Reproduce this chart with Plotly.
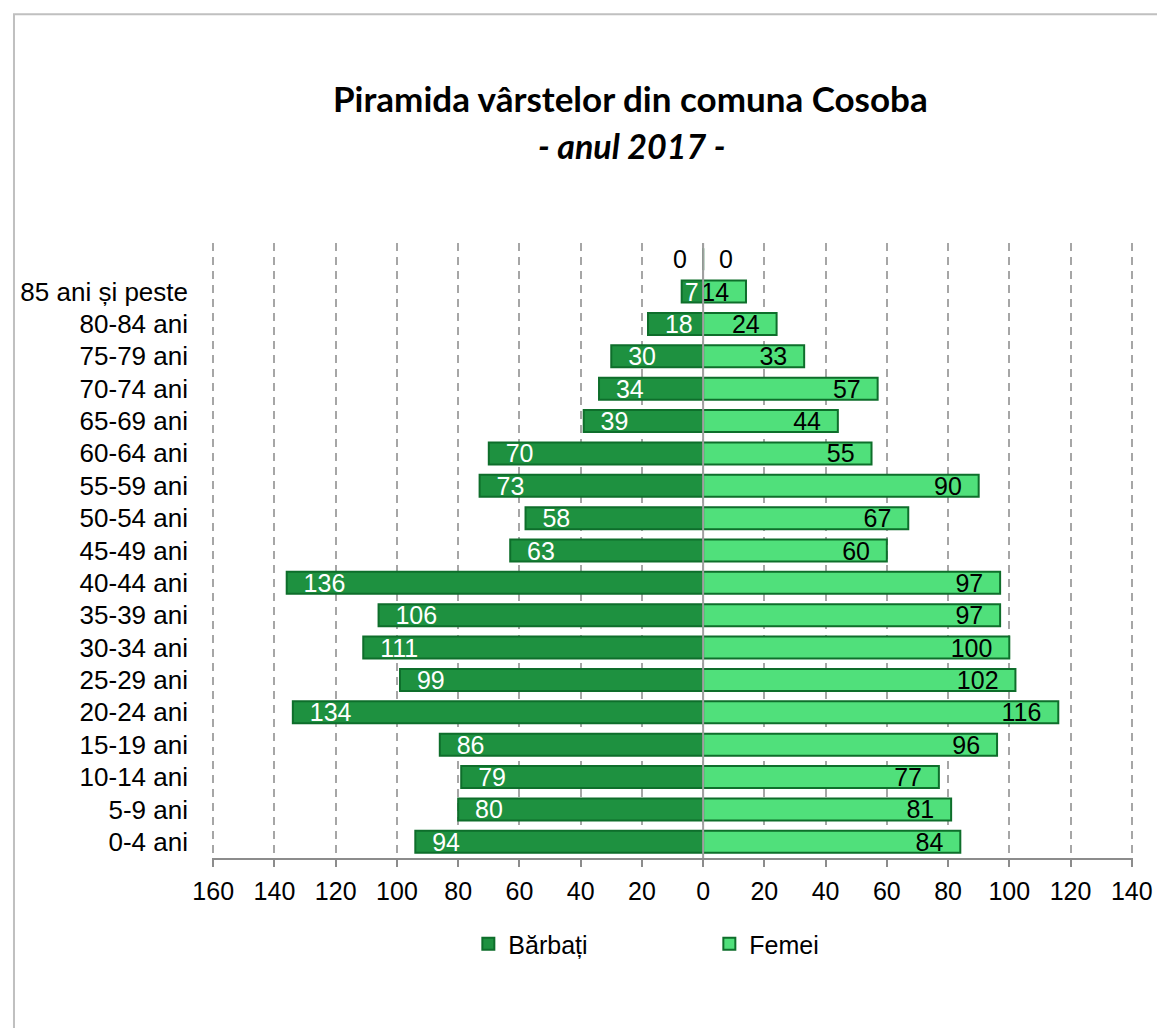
import plotly.graph_objects as go

# ---- data ----
age_groups = ["0-4 ani", "5-9 ani", "10-14 ani", "15-19 ani", "20-24 ani", "25-29 ani",
              "30-34 ani", "35-39 ani", "40-44 ani", "45-49 ani", "50-54 ani", "55-59 ani",
              "60-64 ani", "65-69 ani", "70-74 ani", "75-79 ani", "80-84 ani",
              "85 ani și peste", " "]
barbati = [94, 80, 79, 86, 134, 99, 111, 106, 136, 63, 58, 73, 70, 39, 34, 30, 18, 7, 0]
femei = [84, 81, 77, 96, 116, 102, 100, 97, 97, 60, 67, 90, 55, 44, 57, 33, 24, 14, 0]
tick_values = [-160, -140, -120, -100, -80, -60, -40, -20, 0, 20, 40, 60, 80, 100, 120, 140]
tick_labels = ["160", "140", "120", "100", "80", "60", "40", "20", "0",
               "20", "40", "60", "80", "100", "120", "140"]
title_line1 = "Piramida vârstelor din comuna Cosoba"
title_line2 = "- anul 2017 -"
series_names = ["Bărbați", "Femei"]

MEN_FILL = "#1E9140"
WOMEN_FILL = "#50E07B"
OUTLINE = "#0E6E2B"
FONT = "Liberation Sans, Arial, sans-serif"
NB = "\u00a0\u00a0"

men_x = [-v for v in barbati]
men_text = [str(v) if v != 0 else "" for v in barbati]
women_text = [str(v) if v != 0 else "" for v in femei]
# padding from the bar end only where the bar is long enough
men_tpl = [(NB + "%{text}") if v >= 10 else "%{text}" for v in barbati]
women_tpl = [("%{text}" + NB) if v >= 10 else "%{text}" for v in femei]

fig = go.Figure()
fig.add_trace(go.Bar(
    y=age_groups, x=men_x, orientation="h", name=series_names[0],
    marker=dict(color=MEN_FILL, line=dict(color=OUTLINE, width=2)),
    text=men_text, texttemplate=men_tpl, textposition="inside",
    insidetextanchor="end", constraintext="none",
    textfont=dict(family=FONT, size=25, color="white"),
    hoverinfo="skip",
))
fig.add_trace(go.Bar(
    y=age_groups, x=femei, orientation="h", name=series_names[1],
    marker=dict(color=WOMEN_FILL, line=dict(color=OUTLINE, width=2)),
    text=women_text, texttemplate=women_tpl, textposition="inside",
    insidetextanchor="end", constraintext="none",
    textfont=dict(family=FONT, size=25, color="black"),
    hoverinfo="skip",
))

annotations = []
# labels for zero-valued rows
for cat, m, f in zip(age_groups, barbati, femei):
    if m == 0:
        annotations.append(dict(x=-m, y=cat, xref="x", yref="y", text=str(m),
                                showarrow=False, xanchor="right", xshift=-14,
                                font=dict(family=FONT, size=25, color="black")))
    if f == 0:
        annotations.append(dict(x=f, y=cat, xref="x", yref="y", text=str(f),
                                showarrow=False, xanchor="left", xshift=14,
                                font=dict(family=FONT, size=25, color="black")))

annotations.append(dict(x=0.454, y=1.236, xref="paper", yref="paper",
                        text="<b>" + title_line1 + "</b>", showarrow=False,
                        xanchor="center", yanchor="middle",
                        font=dict(family="Lato, sans-serif", size=35, color="black")))
annotations.append(dict(x=0.456, y=1.159, xref="paper", yref="paper",
                        text="<b><i>" + title_line2 + "</i></b>", showarrow=False,
                        xanchor="center", yanchor="middle",
                        font=dict(family="Lato, sans-serif", size=34, color="black")))

shapes = [
    dict(type="line", xref="x", yref="paper", x0=0, x1=0, y0=0, y1=1,
         line=dict(color="#a0a0a0", width=2), layer="above"),
    dict(type="rect", xref="paper", yref="paper", x0=-0.215, x1=1.2, y0=-0.4, y1=1.372,
         line=dict(color="#c0c0c0", width=2), fillcolor="rgba(0,0,0,0)", layer="below"),
]

fig.update_layout(
    width=1157, height=1020,
    margin=dict(l=199, r=31, t=235, b=170),
    paper_bgcolor="white", plot_bgcolor="white",
    barmode="relative", bargap=0.32,
    font=dict(family=FONT, size=25, color="black"),
    showlegend=True,
    legend=dict(orientation="h", x=0.54, xanchor="center", y=-0.14, yanchor="middle",
                font=dict(family=FONT, size=25, color="black"),
                entrywidth=196, itemwidth=30, traceorder="normal"),
    annotations=annotations,
    shapes=shapes,
    xaxis=dict(range=[-160.4, 140.4], tickvals=tick_values, ticktext=tick_labels,
               showgrid=True, gridcolor="#a6a6a6", gridwidth=2, griddash="8px,6px",
               zeroline=False, showline=True, linecolor="#8c8c8c", linewidth=2,
               ticks="outside", ticklen=7, tickcolor="#8c8c8c", tickwidth=2,
               ticklabelstandoff=3,
               tickfont=dict(family=FONT, size=25, color="black")),
    yaxis=dict(type="category", categoryorder="array", categoryarray=age_groups,
               showgrid=False, zeroline=False, showline=False, ticks="",
               ticklabelstandoff=23,
               tickfont=dict(family=FONT, size=26, color="black")),
)

fig.write_html("out.html")
